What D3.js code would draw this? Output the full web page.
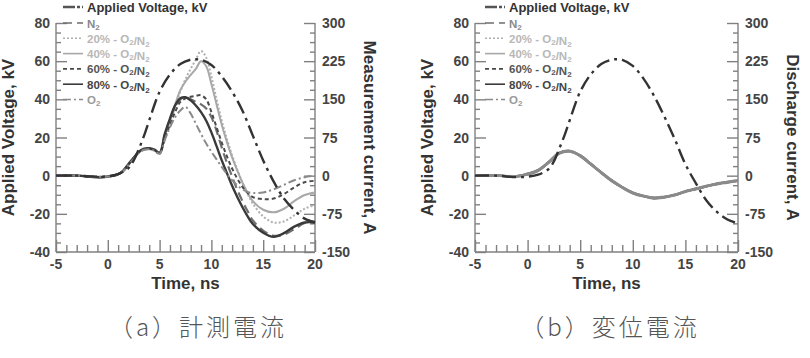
<!DOCTYPE html>
<html>
<head>
<meta charset="utf-8">
<script src="https://cdn.jsdelivr.net/npm/d3@7"></script>
<style>
  body { margin: 0; background: #fff; }
  svg { display: block; font-family: "Liberation Sans", Arial, sans-serif; }
</style>
</head>
<body>
<script>
// time axis (ns) of the applied voltage traces
const voltTime = [-5, -3, -1, 0, 1, 2, 2.5, 3, 3.5, 4, 5, 6, 7, 8, 8.5, 9, 10, 11, 12, 13, 14, 15, 16, 17, 18, 19, 20]
const voltA = [0, 0, -0.5, -0.3, 0.8, 4, 8, 14, 21, 29, 44, 53, 58.5, 60.8, 61, 60.7, 58, 52, 44, 34, 21, 8, -3, -12, -18, -22.5, -24.5]
const voltB = [0, 0, -0.8, -0.5, 0.5, 3.5, 7.5, 14, 21, 29, 44, 53, 58.5, 60.8, 61, 60.7, 57.5, 51, 42, 31, 19, 6, -4, -13, -19, -23, -25]

// (a) measured current, A
const timeA = [-5, -3, -1, 0, 1, 1.5, 2, 2.5, 3, 3.5, 4, 4.5, 5, 5.5, 6, 6.5, 7, 7.5, 8, 8.5, 9, 9.5, 10, 10.5, 11, 11.5, 12, 12.5, 13, 13.5, 14, 15, 16, 17, 18, 19, 20]
const measN2 = [0, 0, -3, -2, 3, 10, 22, 35, 46, 52, 53, 50, 44, 80, 110, 135, 150, 155, 150, 145, 140, 132, 115, 88, 55, 25, -2, -28, -50, -70, -88, -108, -118, -116, -105, -93, -90]
const meas20 = [0, 1, -2, -2, 2, 9, 21, 34, 45, 51, 52, 49, 42, 75, 105, 135, 165, 190, 210, 228, 245, 232, 195, 150, 108, 72, 40, 12, -14, -36, -55, -80, -92, -90, -78, -65, -58]
const meas40 = [0, 0, -2, -1, 3, 10, 22, 34, 46, 52, 53, 50, 44, 78, 110, 140, 168, 185, 198, 210, 225, 215, 180, 140, 100, 66, 36, 10, -14, -34, -50, -67, -72, -65, -50, -38, -33]
const meas60 = [0, 0, -3, -2, 3, 10, 22, 35, 46, 52, 53, 50, 44, 72, 100, 125, 145, 152, 155, 157, 158, 150, 125, 95, 65, 38, 14, -6, -22, -34, -42, -46, -45, -36, -23, -13, -10]
const meas80 = [0, 0, -3, -2, 3, 10, 23, 35, 47, 53, 54, 51, 45, 82, 112, 138, 152, 154, 148, 138, 125, 108, 85, 58, 30, 5, -20, -42, -62, -80, -95, -112, -120, -113, -100, -92, -92]
const measO2 = [0, 0, -2, -2, 2, 9, 21, 33, 45, 51, 52, 49, 43, 70, 95, 115, 128, 135, 122, 102, 82, 63, 47, 32, 17, 3, -9, -19, -27, -32, -34, -33, -27, -18, -9, -3, 0]

// (b) displacement current, A
const timeB = [-5, -3, -1, 0, 1, 2, 3, 4, 5, 6, 7, 8, 9, 10, 11, 12, 13, 14, 15, 16, 17, 18, 19, 20]
const dispN2 = [0, 0, -1, 3, 10, 26, 44, 48, 39, 23, 6, -10, -23, -34, -40, -44, -42, -38, -31, -26, -21, -16, -13, -10]
const disp20 = [0, 1, -2, 4, 11, 27, 45, 49, 40, 24, 7, -9, -22, -33, -40, -43, -42, -37, -31, -25, -20, -16, -12, -9]
const disp40 = [1, 0, -1, 3, 10, 25, 43, 47, 39, 22, 6, -10, -24, -35, -41, -44, -43, -38, -32, -26, -21, -17, -13, -10]
const disp60 = [0, 0, -2, 2, 9, 26, 44, 49, 40, 23, 5, -11, -23, -34, -40, -45, -42, -39, -31, -27, -21, -16, -14, -10]
const disp80 = [0, 1, -1, 3, 11, 27, 45, 48, 38, 22, 6, -10, -23, -33, -39, -43, -41, -38, -30, -26, -20, -15, -12, -9]
const dispO2 = [0, 0, -1, 4, 10, 26, 44, 48, 39, 23, 7, -9, -23, -34, -40, -44, -42, -37, -31, -26, -21, -16, -13, -11]

const xTicks = [-5, 0, 5, 10, 15, 20]
const vTicks = [-40, -20, 0, 20, 40, 60, 80]
const iTicks = [-150, -75, 0, 75, 150, 225, 300]

const seriesNames = ["N2", "20%-O2/N2", "40%-O2/N2", "60%-O2/N2", "80%-O2/N2", "O2"]
const captions = ["（a）計測電流", "（b）変位電流"]

const styles = [
  {color: "#6e6e6e", dash: "9,5", width: 2.2, text: "#8a8a8a"},
  {color: "#b0b0b0", dash: "2,2", width: 2, text: "#b8b8b8"},
  {color: "#a8a8a8", dash: null, width: 2, text: "#b8b8b8"},
  {color: "#4a4a4a", dash: "4,3", width: 2, text: "#555"},
  {color: "#3a3a3a", dash: null, width: 2.4, text: "#444"},
  {color: "#8a8a8a", dash: "8,3,2,3", width: 2, text: "#999"}
]

const svg = d3.select("body").append("svg")
    .attr("width", 810)
    .attr("height", 358)

const panels = [
  {x0: 56, x1: 315, legX: 63, volt: voltA, time: timeA,
   series: [measN2, meas20, meas40, meas60, meas80, measO2],
   rightTitle: "Measurement current, A", caption: captions[0], capX: 198, gray: false},
  {x0: 475, x1: 738, legX: 485, volt: voltB, time: timeB,
   series: [dispN2, disp20, disp40, disp60, disp80, dispO2],
   rightTitle: "Discharge current, A", caption: captions[1], capX: 610, gray: true}
]

const plotTop = 23, plotBottom = 252

panels.forEach(function (p) {
  const g = svg.append("g")
  const x = d3.scaleLinear().domain([-5, 20]).range([p.x0, p.x1])
  const yV = d3.scaleLinear().domain([-40, 80]).range([plotBottom, plotTop])
  const yI = d3.scaleLinear().domain([-150, 300]).range([plotBottom, plotTop])

  // axes, ticks pointing inward
  const axLeft = g.append("g").attr("transform", `translate(${p.x0},0)`)
  axLeft.call(d3.axisRight(yV).tickValues(d3.range(-40, 81, 5)).tickSize(5).tickFormat(""))
  axLeft.selectAll(".tick line").attr("x2", function (d) { return d % 20 === 0 ? 11 : 5 })
  axLeft.selectAll("path.domain").attr("d", `M0,${plotTop}V${plotBottom}`)

  const axRight = g.append("g").attr("transform", `translate(${p.x1},0)`)
  axRight.call(d3.axisLeft(yI).tickValues(d3.range(0, 25).map(function (i) { return -150 + i * 18.75 }))
    .tickSize(5).tickFormat(""))
  axRight.selectAll(".tick line").attr("x2", function (d) { return d % 75 === 0 ? -11 : -5 })
  axRight.selectAll("path.domain").attr("d", `M0,${plotTop}V${plotBottom}`)

  const axBottom = g.append("g").attr("transform", `translate(0,${plotBottom})`)
  axBottom.call(d3.axisTop(x).tickValues(d3.range(-5, 21, 1)).tickFormat(""))
  axBottom.selectAll(".tick line").attr("y2", function (d) { return d % 5 === 0 ? -12 : -7 })
  axBottom.selectAll("path.domain").attr("d", `M${p.x0},0H${p.x1}`)

  g.selectAll("path.domain, .tick line").attr("stroke", "#808080").attr("stroke-width", 1.4)

  // tick labels
  const lab = g.append("g").attr("font-weight", "bold").attr("font-size", 14).attr("fill", "#444")
  lab.selectAll(".lv").data(vTicks).enter().append("text")
    .attr("x", p.x0 - 6).attr("y", function (d) { return yV(d) + 5 })
    .attr("text-anchor", "end").text(function (d) { return d })
  lab.selectAll(".li").data(iTicks).enter().append("text")
    .attr("x", p.x1 + 7).attr("y", function (d) { return yI(d) + 5 })
    .text(function (d) { return d })
  lab.selectAll(".lx").data(xTicks).enter().append("text")
    .attr("x", function (d) { return x(d) }).attr("y", plotBottom + 17)
    .attr("text-anchor", "middle").text(function (d) { return d })

  // axis titles
  const tt = g.append("g").attr("font-weight", "bold").attr("font-size", 17).attr("fill", "#333")
    .attr("text-anchor", "middle")
  tt.append("text").attr("transform", `translate(${p.x0 - 42},${(plotTop + plotBottom) / 2}) rotate(-90)`)
    .text("Applied Voltage, kV")
  tt.append("text").attr("transform", `translate(${p.x1 + 49},${(plotTop + plotBottom) / 2}) rotate(90)`)
    .text(p.rightTitle)
  tt.append("text").attr("x", (p.x0 + p.x1) / 2).attr("y", plotBottom + 37).text("Time, ns")

  // current traces
  const line = d3.line().curve(d3.curveCatmullRom.alpha(0.5))
  p.series.forEach(function (vals, i) {
    const st = styles[i]
    g.append("path")
      .datum(vals.map(function (v, j) { return [p.time[j], v] }))
      .attr("fill", "none")
      .attr("stroke", p.gray ? "#8a8a8a" : st.color)
      .attr("stroke-width", p.gray ? 2.2 : st.width)
      .attr("stroke-dasharray", p.gray ? null : st.dash)
      .attr("d", line.x(function (d) { return x(d[0]) }).y(function (d) { return yI(d[1]) }))
  })

  // applied voltage
  g.append("path")
    .datum(p.volt.map(function (v, j) { return [voltTime[j], v] }))
    .attr("fill", "none")
    .attr("stroke", "#333")
    .attr("stroke-width", 2.4)
    .attr("stroke-dasharray", "14,5,3,5")
    .attr("d", d3.line().curve(d3.curveCatmullRom.alpha(0.5))
      .x(function (d) { return x(d[0]) }).y(function (d) { return yV(d[1]) }))

  // legend
  const leg = g.append("g").attr("font-weight", "bold")
  leg.append("line").attr("x1", p.legX).attr("x2", p.legX + 20).attr("y1", 7).attr("y2", 7)
    .attr("stroke", "#555").attr("stroke-width", 2.4).attr("stroke-dasharray", "12,2,3,2")
  leg.append("text").attr("x", p.legX + 24).attr("y", 11.5).attr("font-size", 13).attr("fill", "#333")
    .text("Applied Voltage, kV")

  seriesNames.forEach(function (name, i) {
    const st = styles[i]
    const yy = 23 + i * 15.3
    leg.append("line").attr("x1", p.legX).attr("x2", p.legX + 20).attr("y1", yy).attr("y2", yy)
      .attr("stroke", st.color).attr("stroke-width", 1.6).attr("stroke-dasharray", st.dash)
    const t = leg.append("text").attr("x", p.legX + 24).attr("y", yy + 4.5)
      .attr("font-size", 11.5).attr("fill", st.text)
    // subscript digits in chemical formulas
    name.split(/(O2|N2)/).filter(function (s) { return s.length }).forEach(function (part) {
      if (part === "O2" || part === "N2") {
        t.append("tspan").text(part[0])
        t.append("tspan").attr("font-size", 8).attr("dy", 2).text("2")
        t.append("tspan").attr("dy", -2).text("")
      } else {
        t.append("tspan").text(part.replace("-", " - "))
      }
    })
  })

  // caption
  svg.append("text")
    .attr("x", p.capX).attr("y", 336)
    .attr("text-anchor", "middle")
    .attr("font-family", "'Noto Sans CJK JP', sans-serif")
    .attr("font-weight", 300)
    .attr("font-size", 24)
    .attr("letter-spacing", 3)
    .attr("fill", "#555")
    .text(p.caption)
})
</script>
</body>
</html>
